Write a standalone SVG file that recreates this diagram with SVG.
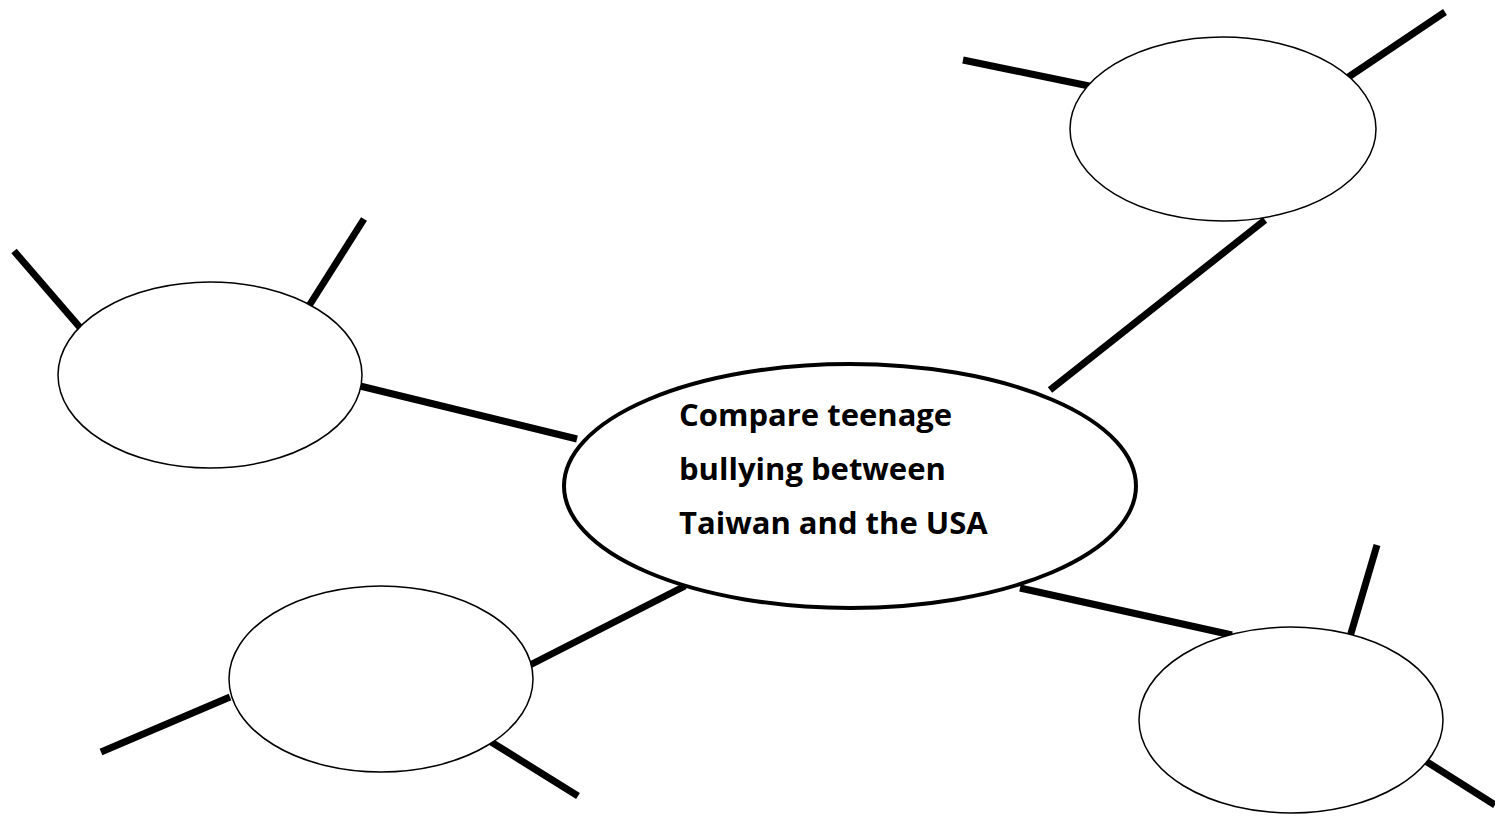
<svg xmlns="http://www.w3.org/2000/svg" width="1495" height="817" viewBox="0 0 1495 817">
<style>
.c{stroke:#000;stroke-width:7;stroke-linecap:butt;fill:none}
.n{fill:#fff;stroke:#000;stroke-width:1.5}
.main{fill:#fff;stroke:#000;stroke-width:4}
.t{font-family:"Open Sans",Lato,sans-serif;font-weight:bold;font-size:31px;fill:#000}
</style>
<rect width="1495" height="817" fill="#fff"/>
<g id="connectors">
<line class="c" x1="963" y1="60" x2="1094" y2="87"/>
<line class="c" x1="1445" y1="12" x2="1347" y2="78"/>
<line class="c" x1="1265" y1="220" x2="1050" y2="390"/>
<line class="c" x1="14" y1="251" x2="83" y2="331"/>
<line class="c" x1="364" y1="219" x2="307" y2="309"/>
<line class="c" x1="360" y1="386" x2="577" y2="439"/>
<line class="c" x1="530" y1="665" x2="685" y2="586"/>
<line class="c" x1="101" y1="752" x2="230" y2="697"/>
<line class="c" x1="488" y1="740" x2="578" y2="796"/>
<line class="c" x1="1020" y1="588" x2="1232" y2="635"/>
<line class="c" x1="1377" y1="545" x2="1349" y2="640"/>
<line class="c" x1="1424" y1="760" x2="1495" y2="805"/>
</g>
<g id="center">
<ellipse class="main" cx="850" cy="486" rx="286" ry="122"/>
<text class="t" x="679" y="426">Compare teenage</text>
<text class="t" x="679" y="480">bullying between</text>
<text class="t" x="679" y="534">Taiwan and the USA</text>
</g>
<g id="topright"><ellipse class="n" cx="1223" cy="129" rx="153" ry="92"/></g>
<g id="left"><ellipse class="n" cx="210" cy="375" rx="152" ry="93"/></g>
<g id="bottomleft"><ellipse class="n" cx="381" cy="679" rx="152" ry="93"/></g>
<g id="bottomright"><ellipse class="n" cx="1291" cy="720" rx="152" ry="93"/></g>
</svg>
